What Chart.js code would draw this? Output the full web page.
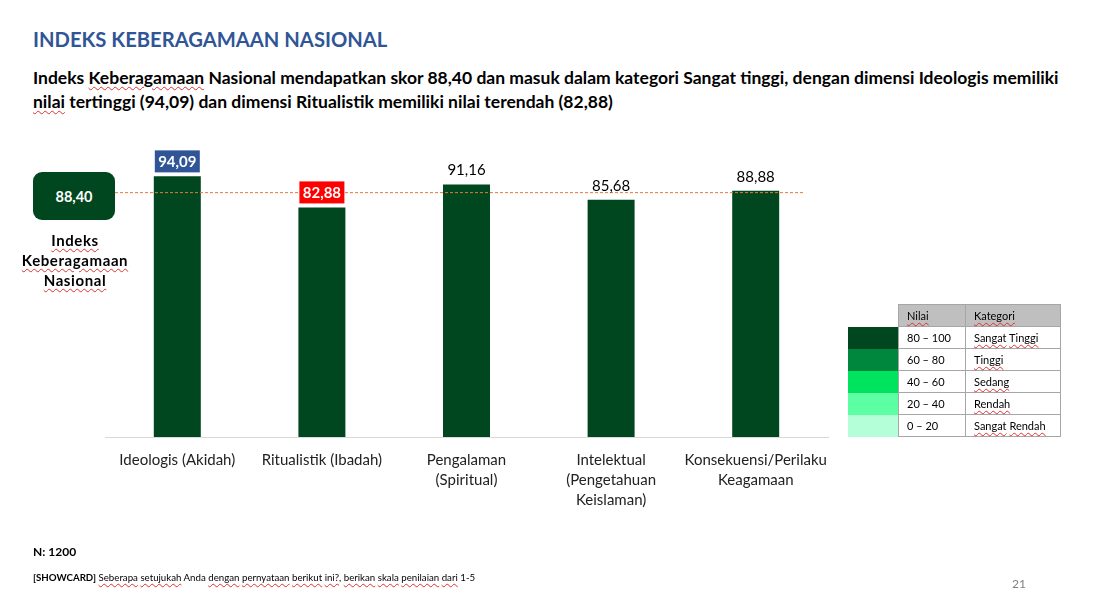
<!DOCTYPE html>
<html><head><meta charset="utf-8">
<script src="https://cdn.jsdelivr.net/npm/chart.js@4.4.1/dist/chart.umd.min.js"></script>
<style>
html,body{margin:0;padding:0;background:#fff;width:1102px;height:606px;overflow:hidden;font-family:Lato,"Open Sans",sans-serif;}
.abs{position:absolute;}
.sp{text-decoration:underline wavy #e03030;text-decoration-thickness:1px;text-underline-offset:2px;}
#title{left:33px;top:27px;font-size:20.2px;font-weight:bold;color:#2F5597;white-space:nowrap;}
#sub{left:33px;top:66px;font-size:17.5px;font-weight:bold;color:#000;line-height:24px;white-space:nowrap;}
#wrap{left:0;top:0;width:1102px;height:606px;}
#idxbox{left:33px;top:172px;width:82px;height:48px;background:#00471F;border-radius:9px;color:#fff;font-weight:bold;font-size:14.5px;display:flex;align-items:center;justify-content:center;}
#idxlbl{left:15px;top:230px;width:120px;text-align:center;font-weight:bold;font-size:15px;letter-spacing:0.6px;line-height:20px;color:#000;}
#legend{left:848px;top:304px;border-collapse:collapse;font-size:11px;}
#legend td{height:21px;padding:0 0 0 8px;border:1px solid #a6a6a6;}
#legend td.sw{width:50px;border:none;padding:0;}
#legend tr.hd td{background:#BFBFBF;}
#legend tr.hd td.sw{background:#fff;}
#n{left:33px;top:544px;font-size:12px;font-weight:bold;}
#note{left:33px;top:571px;font-size:9.7px;}
#pg{left:1012px;top:576px;font-size:12px;color:#7f7f7f;}
</style></head>
<body>
<div id="title" class="abs">INDEKS KEBERAGAMAAN NASIONAL</div>
<div id="sub" class="abs">Indeks <span class="sp">Keberagamaan</span> Nasional mendapatkan skor 88,40 dan masuk dalam kategori Sangat tinggi, dengan dimensi Ideologis memiliki<br><span class="sp">nilai</span> tertinggi (94,09) dan dimensi Ritualistik memiliki nilai terendah (82,88)</div>
<div id="wrap" class="abs"><canvas id="c" width="1102" height="606"></canvas></div>
<div id="idxbox" class="abs">88,40</div>
<div id="idxlbl" class="abs"><span class="sp">Indeks</span><br><span class="sp">Keberagamaan</span><br><span class="sp">Nasional</span></div>
<table id="legend" class="abs">
<tr class="hd"><td class="sw"></td><td style="width:58px"><span class="sp">Nilai</span></td><td style="width:86px"><span class="sp">Kategori</span></td></tr>
<tr><td class="sw" style="background:#00471F"></td><td>80 – 100</td><td><span class="sp">Sangat</span> <span class="sp">Tinggi</span></td></tr>
<tr><td class="sw" style="background:#00873E"></td><td>60 – 80</td><td><span class="sp">Tinggi</span></td></tr>
<tr><td class="sw" style="background:#00E35F"></td><td>40 – 60</td><td><span class="sp">Sedang</span></td></tr>
<tr><td class="sw" style="background:#5DFFA3"></td><td>20 – 40</td><td><span class="sp">Rendah</span></td></tr>
<tr><td class="sw" style="background:#B5FFD8"></td><td>0 – 20</td><td><span class="sp">Sangat</span> <span class="sp">Rendah</span></td></tr>
</table>
<div id="n" class="abs">N: 1200</div>
<div id="note" class="abs"><b>[SHOWCARD]</b> <span class="sp">Seberapa</span> <span class="sp">setujukah</span> Anda <span class="sp">dengan</span> <span class="sp">pernyataan</span> <span class="sp">berikut</span> <span class="sp">ini?</span>, <span class="sp">berikan</span> <span class="sp">skala</span> <span class="sp">penilaian</span> <span class="sp">dari</span> 1-5</div>
<div id="pg" class="abs">21</div>
<script>
const categories = [
  ["Ideologis (Akidah)"],
  ["Ritualistik (Ibadah)"],
  ["Pengalaman", "(Spiritual)"],
  ["Intelektual", "(Pengetahuan", "Keislaman)"],
  ["Konsekuensi/Perilaku", "Keagamaan"]
];
const values = [94.09, 82.88, 91.16, 85.68, 88.88];
const valueLabels = ["94,09", "82,88", "91,16", "85,68", "88,88"];
const nationalIndex = 88.40;

const labelPlugin = {
  id: 'labels',
  afterDatasetsDraw(chart) {
    const ctx = chart.ctx;
    const y = chart.scales.y;
    const ly = y.getPixelForValue(nationalIndex);
    ctx.save();
    ctx.strokeStyle = '#E07B39';
    ctx.lineWidth = 1;
    ctx.setLineDash([3, 2]);
    ctx.beginPath();
    ctx.moveTo(115, ly + 0.5);
    ctx.lineTo(805, ly + 0.5);
    ctx.stroke();
    ctx.setLineDash([]);
    const meta = chart.getDatasetMeta(0);
    const hi = values.indexOf(Math.max(...values));
    const lo = values.indexOf(Math.min(...values));
    ctx.textAlign = 'center';
    ctx.textBaseline = 'middle';
    meta.data.forEach((bar, i) => {
      const cy = bar.y - 15;
      if (i === hi || i === lo) {
        ctx.fillStyle = i === hi ? '#2F5597' : '#FF0000';
        ctx.fillRect(bar.x - 22.5, cy - 11, 45, 22);
        ctx.fillStyle = '#fff';
        ctx.font = 'bold 15px Lato';
      } else {
        ctx.fillStyle = '#000';
        ctx.font = '15px Lato';
      }
      ctx.fillText(valueLabels[i], bar.x, cy + 1);
    });
    ctx.restore();
  }
};

new Chart(document.getElementById('c'), {
  type: 'bar',
  data: {
    labels: categories,
    datasets: [{
      data: values,
      backgroundColor: '#00471F',
      categoryPercentage: 1,
      barPercentage: 0.325
    }]
  },
  options: {
    responsive: false,
    animation: false,
    events: [],
    layout: { padding: { top: 160, left: 105, right: 274, bottom: 0 } },
    plugins: { legend: { display: false }, tooltip: { enabled: false } },
    scales: {
      y: { display: false, min: 0, max: 100 },
      x: {
        afterFit(s) { s.height = 606 - 437; },
        grid: { display: false, drawTicks: false },
        border: { display: true, color: '#D9D9D9', width: 1 },
        ticks: { color: '#222', font: { family: 'Lato', size: 15, lineHeight: 1.35 }, padding: 13, maxRotation: 0, autoSkip: false }
      }
    }
  },
  plugins: [labelPlugin]
});
</script>
</body></html>
